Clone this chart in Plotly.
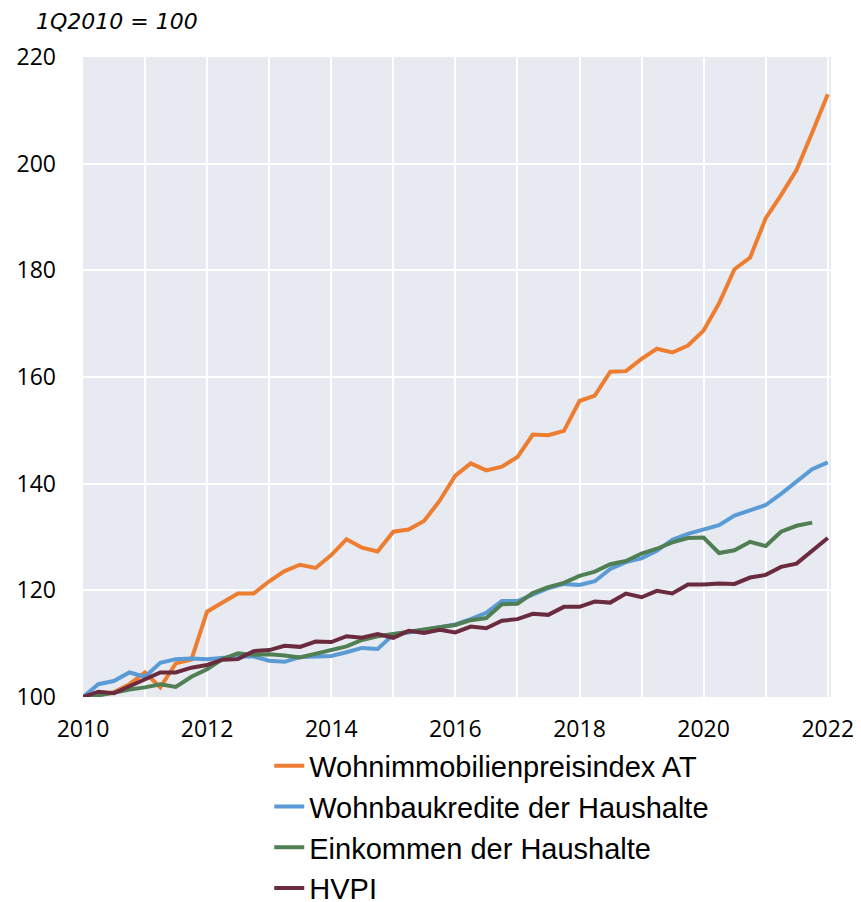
import pandas as pd
import plotly.graph_objects as go

quarters = pd.date_range("2010-01-01", "2022-01-01", freq="QS")

wohnimmo = [100, 100.5, 100.9, 102.4,
            104.6, 101.8, 106.3, 107.0,
            116.0, 117.7, 119.4, 119.4,
            121.7, 123.6, 124.8, 124.2,
            126.6, 129.6, 128.0, 127.3,
            131.0, 131.4, 133.0, 136.8,
            141.5, 143.8, 142.5, 143.2,
            145.0, 149.2, 149.1, 149.9,
            155.5, 156.5, 161.0, 161.1,
            163.4, 165.3, 164.6, 165.9,
            168.7, 173.8, 180.2, 182.4,
            189.8, 194.1, 198.8, 205.8,
            213.0]

kredite = [100, 102.4, 103.0, 104.6,
           103.8, 106.4, 107.1, 107.2,
           107.1, 107.4, 107.6, 107.6,
           106.8, 106.6, 107.5, 107.6,
           107.7, 108.4, 109.2, 109.0,
           111.7, 112.1, 112.6, 113.2,
           113.6, 114.6, 115.8, 118.0,
           118.0, 119.2, 120.4, 121.2,
           121.0, 121.7, 124.0, 125.3,
           126.0, 127.4, 129.5, 130.6,
           131.4, 132.2, 134.0, 135.1,
           136.0, 138.1, 140.4, 142.7,
           144.0]

einkommen = [100, 100.3, 100.8, 101.4,
             101.8, 102.4, 101.9, 103.8,
             105.2, 107.1, 108.2, 107.9,
             108.0, 107.8, 107.4, 108.1,
             108.9, 109.5, 110.7, 111.4,
             111.8, 112.2, 112.7, 113.0,
             113.5, 114.4, 114.8, 117.4,
             117.5, 119.5, 120.6, 121.4,
             122.7, 123.5, 124.9, 125.5,
             126.9, 127.8, 129.0, 129.8,
             129.9, 127.0, 127.5, 129.1,
             128.3, 131.0, 132.1, 132.7]

hvpi = [100, 101.0, 100.7, 102.0,
        103.4, 104.6, 104.6, 105.5,
        106.0, 107.0, 107.1, 108.6,
        108.8, 109.6, 109.4, 110.4,
        110.3, 111.4, 111.1, 111.8,
        111.1, 112.4, 112.0, 112.6,
        112.1, 113.2, 112.9, 114.3,
        114.6, 115.6, 115.4, 116.9,
        116.9, 117.9, 117.7, 119.4,
        118.7, 119.9, 119.4, 121.1,
        121.1, 121.3, 121.2, 122.4,
        122.9, 124.4, 125.0, 127.4,
        129.8]

series_names = ["Wohnimmobilienpreisindex AT", "Wohnbaukredite der Haushalte",
                "Einkommen der Haushalte", "HVPI"]
series_values = [wohnimmo, kredite, einkommen, hvpi]
colors = ["#ED7D31", "#5B9BD5", "#4F7F52", "#6B2B3E"]

fig = go.Figure()
for i, (name, vals, col) in enumerate(zip(series_names, series_values, colors)):
    fig.add_trace(go.Scatter(
        x=quarters[:len(vals)], y=vals, mode="lines", name=name,
        line=dict(color=col, width=4), legendgroup=f"g{i}"))

fig.update_layout(
    width=853, height=894,
    margin=dict(l=75, r=30, t=49, b=205, autoexpand=False),
    paper_bgcolor="white", plot_bgcolor="#E8EAF1",
    font=dict(family="Open Sans", size=23, color="black"),
    showlegend=True,
    legend=dict(x=0.249, xanchor="left", y=-0.068, yanchor="top",
                font=dict(family="Liberation Sans", size=29, color="black"),
                tracegroupgap=0, bgcolor="rgba(0,0,0,0)"),
    annotations=[dict(text="<i>1Q2010 = 100</i>", xref="paper", yref="paper",
                      x=-0.066, y=1.055, xanchor="left", yanchor="middle",
                      showarrow=False, font=dict(family="DejaVu Sans", size=22, color="black"))],
)
fig.update_xaxes(
    type="date", range=["2010-01-01", "2022-01-20"],
    dtick="M24", tick0="2010-01-01", tickformat="%Y",
    showgrid=True, gridcolor="white", gridwidth=2,
    minor=dict(dtick="M12", tick0="2010-01-01", showgrid=True, gridcolor="white", gridwidth=2),
    zeroline=False, showline=False, ticks="", ticklabelstandoff=16, automargin=False,
)
fig.update_yaxes(
    range=[100, 220], dtick=20, showgrid=True, gridcolor="white", gridwidth=2,
    zeroline=False, showline=False, ticks="", ticklabelstandoff=26, automargin=False,
)
fig.write_html("out.html")
